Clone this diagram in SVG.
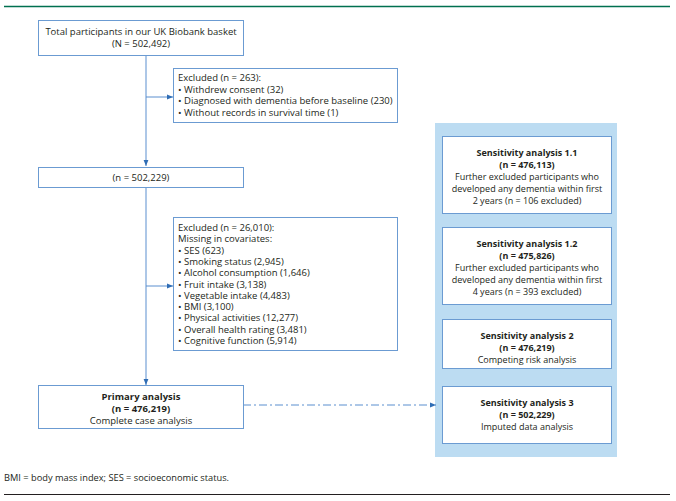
<svg xmlns="http://www.w3.org/2000/svg" width="676" height="501" viewBox="0 0 676 501">
<style>
text{font-family:"Open Sans","Noto Sans","Liberation Sans",sans-serif;font-size:9.5px;fill:#231f20}
.s text{font-size:9px}
.c{text-anchor:middle}
.b{font-weight:bold}
.box{fill:#fff;stroke:#6b9bd2;stroke-width:1}
.ln{fill:none;stroke:#5b8fcf;stroke-width:1}
</style>
<defs>
<marker id="ah" viewBox="0 0 10 10" refX="10" refY="5" markerWidth="6" markerHeight="6" orient="auto" markerUnits="userSpaceOnUse">
<path d="M0,1 L10,5 L0,9 Z" fill="#2f6db5"/>
</marker>
</defs>
<rect width="676" height="501" fill="#fff"/>
<line x1="4" y1="6.5" x2="670" y2="6.5" stroke="#007050" stroke-width="1.5"/>
<rect id="panel" x="435" y="123" width="182" height="334" fill="#bcdcf2"/>
<g id="connectors">
<path class="ln" d="M146,56 V166" marker-end="url(#ah)"/>
<path class="ln" d="M146,97 H173" marker-end="url(#ah)"/>
<path class="ln" d="M146,187 V385" marker-end="url(#ah)"/>
<path class="ln" d="M146,286 H173" marker-end="url(#ah)"/>
<path class="ln" d="M243,405 H436" stroke-dasharray="8,3,2,3" marker-end="url(#ah)"/>
</g>
<g id="total">
<rect class="box" x="38.5" y="20.5" width="205" height="35"/>
<text class="c" x="141" y="35">Total participants in our UK Biobank basket</text>
<text class="c" x="141" y="47">(N = 502,492)</text>
</g>
<g id="excluded1">
<rect class="box" x="173.5" y="68.5" width="224" height="54"/>
<text x="178" y="81">Excluded (n = 263):</text>
<text x="178" y="92.5">• Withdrew consent (32)</text>
<text x="178" y="104">• Diagnosed with dementia before baseline (230)</text>
<text x="178" y="115.5">• Without records in survival time (1)</text>
</g>
<g id="n502229">
<rect class="box" x="38.5" y="167.5" width="205" height="20"/>
<text class="c" x="141" y="181">(n = 502,229)</text>
</g>
<g id="excluded2">
<rect class="box" x="173.5" y="217.5" width="224" height="133"/>
<text x="178" y="231">Excluded (n = 26,010):</text>
<text x="178" y="242.3">Missing in covariates:</text>
<text x="178" y="253.6">• SES (623)</text>
<text x="178" y="264.9">• Smoking status (2,945)</text>
<text x="178" y="276.2">• Alcohol consumption (1,646)</text>
<text x="178" y="287.5">• Fruit intake (3,138)</text>
<text x="178" y="298.8">• Vegetable intake (4,483)</text>
<text x="178" y="310.1">• BMI (3,100)</text>
<text x="178" y="321.4">• Physical activities (12,277)</text>
<text x="178" y="332.7">• Overall health rating (3,481)</text>
<text x="178" y="344">• Cognitive function (5,914)</text>
</g>
<g id="primary">
<rect class="box" x="38.5" y="385.5" width="205" height="43"/>
<text class="c b" x="141" y="400">Primary analysis</text>
<text class="c b" x="141" y="412">(n = 476,219)</text>
<text class="c" x="141" y="424">Complete case analysis</text>
</g>
<g id="sa11" class="s">
<rect class="box" x="442.5" y="136.5" width="169" height="77"/>
<text class="c b" x="527" y="156">Sensitivity analysis 1.1</text>
<text class="c b" x="527" y="168">(n = 476,113)</text>
<text class="c" x="527" y="180">Further excluded participants who</text>
<text class="c" x="527" y="192">developed any dementia within first</text>
<text class="c" x="527" y="204">2 years (n = 106 excluded)</text>
</g>
<g id="sa12" class="s">
<rect class="box" x="442.5" y="227.5" width="169" height="77"/>
<text class="c b" x="527" y="247">Sensitivity analysis 1.2</text>
<text class="c b" x="527" y="259">(n = 475,826)</text>
<text class="c" x="527" y="271">Further excluded participants who</text>
<text class="c" x="527" y="283">developed any dementia within first</text>
<text class="c" x="527" y="295">4 years (n = 393 excluded)</text>
</g>
<g id="sa2" class="s">
<rect class="box" x="442.5" y="319.5" width="169" height="49"/>
<text class="c b" x="527" y="339">Sensitivity analysis 2</text>
<text class="c b" x="527" y="351">(n = 476,219)</text>
<text class="c" x="527" y="363">Competing risk analysis</text>
</g>
<g id="sa3" class="s">
<rect class="box" x="442.5" y="386.5" width="169" height="57"/>
<text class="c b" x="527" y="406">Sensitivity analysis 3</text>
<text class="c b" x="527" y="418">(n = 502,229)</text>
<text class="c" x="527" y="430">Imputed data analysis</text>
</g>
<text x="4" y="481" style="font-size:8.5px" textLength="225" lengthAdjust="spacingAndGlyphs">BMI = body mass index; SES = socioeconomic status.</text>
<line x1="4" y1="494.5" x2="670" y2="494.5" stroke="#231f20" stroke-width="1"/>
</svg>
